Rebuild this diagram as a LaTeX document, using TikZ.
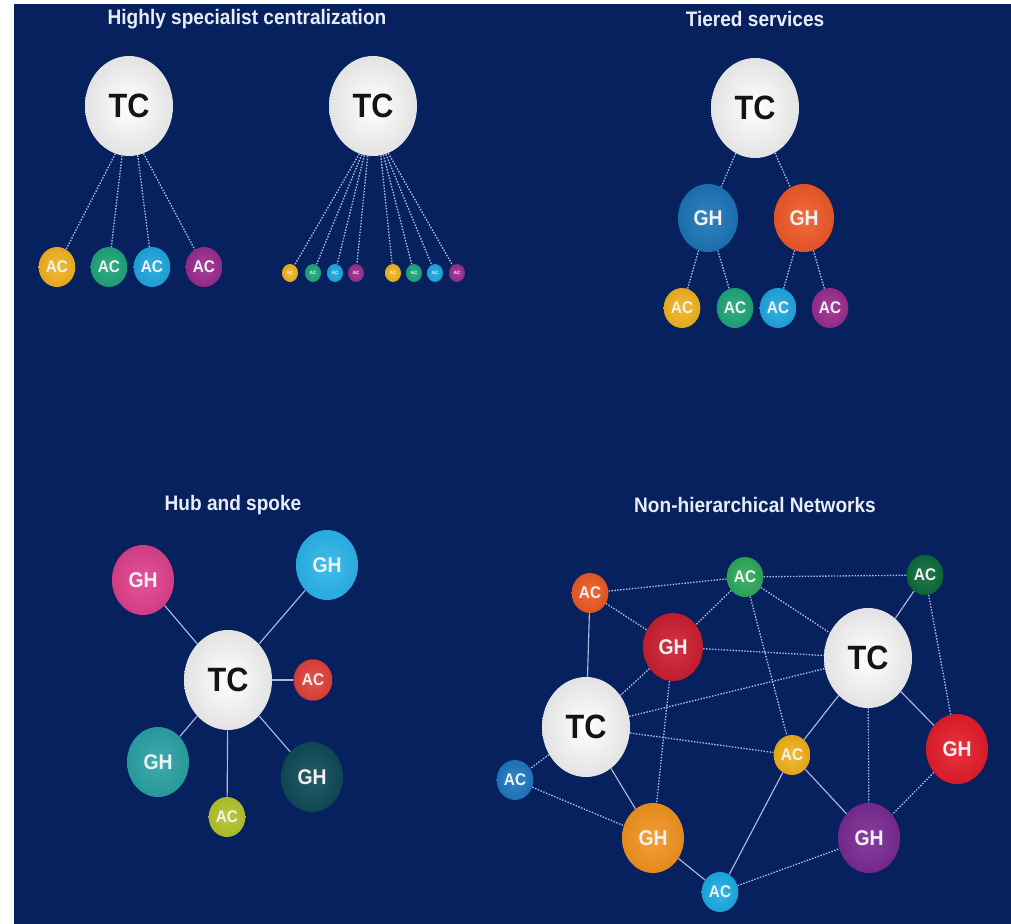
\documentclass[tikz,border=0pt]{standalone}
\usepackage{fontspec}
\usepackage{graphicx}
\setmainfont{Liberation Sans}
\usetikzlibrary{shapes.geometric}

\definecolor{navy}{RGB}{6,33,94}
\definecolor{linec}{RGB}{170,188,226}
\definecolor{titlec}{RGB}{232,236,245}
% palette
\definecolor{cyellow}{RGB}{242,180,32}
\definecolor{cgreen}{RGB}{30,166,122}
\definecolor{cblue}{RGB}{30,167,224}
\definecolor{cpurple}{RGB}{155,44,143}
\definecolor{cghblue}{RGB}{28,117,184}
\definecolor{cghorange}{RGB}{240,90,40}
\definecolor{cpink}{RGB}{224,65,140}
\definecolor{csky}{RGB}{43,182,236}
\definecolor{cred}{RGB}{226,65,58}
\definecolor{cteal}{RGB}{42,163,166}
\definecolor{cdteal}{RGB}{15,75,88}
\definecolor{clime}{RGB}{179,197,44}
\definecolor{corangered}{RGB}{238,90,36}
\definecolor{cngreen}{RGB}{46,170,92}
\definecolor{cdgreen}{RGB}{13,107,58}
\definecolor{ccrimson}{RGB}{204,31,48}
\definecolor{cnblue}{RGB}{31,120,192}
\definecolor{cnyellow}{RGB}{240,178,28}
\definecolor{cnred}{RGB}{229,29,42}
\definecolor{corange}{RGB}{243,148,32}
\definecolor{cnpurple}{RGB}{122,43,148}
\definecolor{cltblue}{RGB}{27,174,228}

\newcommand{\vst}[1]{\scalebox{1}[1.1]{#1}}
\newcommand{\titlefont}{\bfseries\fontsize{14.3}{14.3}\selectfont}
\newcommand{\tcfont}{\bfseries\fontsize{23}{23}\selectfont}
\newcommand{\ghfont}{\bfseries\fontsize{14.5}{14.5}\selectfont}
\newcommand{\acfont}{\bfseries\fontsize{11.5}{11.5}\selectfont}
\newcommand{\tinyfont}{\bfseries\fontsize{3.5}{3.5}\selectfont}

\tikzset{
  ball/.style={ellipse, inner sep=0pt, shading=radial,
    inner color=#1!90!white, outer color=#1!93!black, text=white!95!black},
  tcn/.style={ellipse, inner sep=0pt, minimum width=66pt, minimum height=75pt,
    shading=radial, inner color=white, outer color=black!11, text=black!92,
    font=\tcfont},
  ghn/.style={ball=#1, minimum width=45pt, minimum height=51pt, font=\ghfont},
  bigghn/.style={ball=#1, minimum width=46.5pt, minimum height=52.5pt, font=\ghfont},
  acn/.style={ball=#1, minimum width=27.5pt, minimum height=30pt, font=\acfont},
  tinyn/.style={ball=#1, minimum width=12pt, minimum height=13.5pt, font=\tinyfont},
  heading/.style={text=titlec, font=\titlefont},
  link/.style={draw=linec, line width=0.85pt},
  dlink/.style={link, line width=1pt, dash pattern=on 1.1pt off 1.1pt},
}

\begin{document}
\begin{tikzpicture}[x=0.75pt, y=-0.75pt]
\useasboundingbox (0,0) rectangle (1011,924);
\fill[white] (0,0) rectangle (1011,924);
\fill[navy] (14,4) rectangle (1011,924);

% ---------- Highly specialist centralization ----------
\node[heading] (t1) at (247,19) {\vst{Highly specialist centralization}};

\node[tcn] (a) at (129,106) {\vst{TC}};
\node[acn=cyellow] (a1) at (57,267) {\vst{AC}};
\node[acn=cgreen]  (a2) at (109,267) {\vst{AC}};
\node[acn=cblue]   (a3) at (152,267) {\vst{AC}};
\node[acn=cpurple] (a4) at (204,267) {\vst{AC}};
\draw[dlink] (a.254) -- (a1);
\draw[dlink] (a.262) -- (a2);
\draw[dlink] (a.280) -- (a3);
\draw[dlink] (a.287) -- (a4);

\node[tcn] (b) at (373,106) {\vst{TC}};
\node[tinyn=cyellow] (b1) at (290,273) {AC};
\node[tinyn=cgreen]  (b2) at (313,273) {AC};
\node[tinyn=cblue]   (b3) at (335,273) {AC};
\node[tinyn=cpurple] (b4) at (356,273) {AC};
\node[tinyn=cyellow] (b5) at (393,273) {AC};
\node[tinyn=cgreen]  (b6) at (414,273) {AC};
\node[tinyn=cblue]   (b7) at (435,273) {AC};
\node[tinyn=cpurple] (b8) at (457,273) {AC};
\draw[dlink] (b.254) -- (b1);
\draw[dlink] (b.257) -- (b2);
\draw[dlink] (b.260) -- (b3);
\draw[dlink] (b.264) -- (b4);
\draw[dlink] (b.279) -- (b5);
\draw[dlink] (b.282) -- (b6);
\draw[dlink] (b.285) -- (b7);
\draw[dlink] (b.288) -- (b8);

% ---------- Tiered services ----------
\node[heading] (t2) at (755,19) {\vst{Tiered services}};
\node[tcn] (c) at (755,108) {\vst{TC}};
\node[ghn=cghblue]   (cg1) at (708,218) {\vst{GH}};
\node[ghn=cghorange] (cg2) at (804,218) {\vst{GH}};
\node[acn=cyellow] (c1) at (682,308) {\vst{AC}};
\node[acn=cgreen]  (c2) at (735,308) {\vst{AC}};
\node[acn=cblue]   (c3) at (778,308) {\vst{AC}};
\node[acn=cpurple] (c4) at (830,308) {\vst{AC}};
\draw[dlink] (c) -- (cg1);
\draw[dlink] (c) -- (cg2);
\draw[dlink] (cg1) -- (c1);
\draw[dlink] (cg1) -- (c2);
\draw[dlink] (cg2) -- (c3);
\draw[dlink] (cg2) -- (c4);

% ---------- Hub and spoke ----------
\node[heading] (t3) at (233,505) {\vst{Hub and spoke}};
\node[tcn] (h) at (228,680) {\vst{TC}};
\node[bigghn=cpink]  (h1) at (143,580) {\vst{GH}};
\node[bigghn=csky]   (h2) at (327,565) {\vst{GH}};
\node[acn=cred, minimum width=29pt, minimum height=31pt] (h3) at (313,680) {\vst{AC}};
\node[bigghn=cteal]  (h4) at (158,762) {\vst{GH}};
\node[bigghn=cdteal] (h5) at (312,777) {\vst{GH}};
\node[acn=clime]     (h6) at (227,817) {\vst{AC}};
\foreach \k in {h1,h2,h3,h4,h5,h6} \draw[link] (h) -- (\k);

% ---------- Non-hierarchical Networks ----------
\node[heading] (t4) at (755,505) {\vst{Non-hierarchical Networks}};
\node[acn=corangered] (n1) at (590,593) {\vst{AC}};
\node[acn=cngreen]    (n2) at (745,577) {\vst{AC}};
\node[acn=cdgreen]    (n3) at (925,575) {\vst{AC}};
\node[ghn=ccrimson]   (n4) at (673,647) {\vst{GH}};
\node[tcn]            (n5) at (868,658) {\vst{TC}};
\node[tcn]            (n6) at (586,727) {\vst{TC}};
\node[acn=cnblue]     (n7) at (515,780) {\vst{AC}};
\node[acn=cnyellow]   (n8) at (792,755) {\vst{AC}};
\node[bigghn=cnred]   (n9) at (957,749) {\vst{GH}};
\node[bigghn=corange] (n10) at (653,838) {\vst{GH}};
\node[bigghn=cnpurple] (n11) at (869,838) {\vst{GH}};
\node[acn=cltblue]    (n12) at (720,892) {\vst{AC}};

\draw[dlink] (n1) -- (n2);
\draw[dlink] (n1) -- (n4);
\draw[link]  (n1) -- (n6);
\draw[dlink] (n2) -- (n4);
\draw[dlink] (n2) -- (n3);
\draw[dlink] (n2) -- (n5);
\draw[dlink] (n2) -- (n8);
\draw[link]  (n3) -- (n5);
\draw[dlink] (n3) -- (n9);
\draw[dlink] (n4) -- (n5);
\draw[dlink] (n4) -- (n6);
\draw[dlink] (n4) -- (n10);
\draw[dlink] (n6) -- (n5);
\draw[dlink] (n6) -- (n8);
\draw[dlink] (n6) -- (n7);
\draw[link]  (n6) -- (n10);
\draw[dlink] (n7) -- (n10);
\draw[link]  (n5) -- (n8);
\draw[link]  (n5) -- (n9);
\draw[dlink] (n5) -- (n11);
\draw[link]  (n8) -- (n11);
\draw[link]  (n8) -- (n12);
\draw[dlink] (n9) -- (n11);
\draw[link]  (n10) -- (n12);
\draw[dlink] (n12) -- (n11);
\end{tikzpicture}
\end{document}
